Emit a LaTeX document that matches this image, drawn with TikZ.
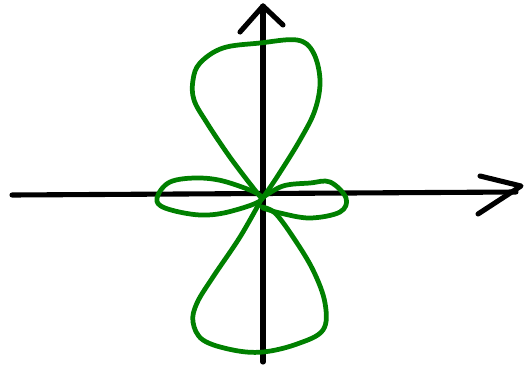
\documentclass[tikz,border=0pt]{standalone}
\usetikzlibrary{calc}
\definecolor{orbgreen}{RGB}{0,128,0}
\tikzset{
    axis_line/.style={
        draw=black,
        line width=2.9pt,
        line cap=round,
        line join=round
    },
    lobe_line/.style={
        draw=orbgreen,
        line width=2.7pt,
        line cap=round,
        line join=round
    }
}

\begin{document}
\begin{tikzpicture}[x=0.02cm, y=-0.02cm]

\useasboundingbox (0,0) rectangle (524,369);

% --- Axes ---
\coordinate (xLeft) at (12,195);
\coordinate (xRight) at (516,192);
\coordinate (yBottom) at (263,362);
\coordinate (yTop) at (263,6);

\draw[axis_line] (xLeft) -- (xRight);
\draw[axis_line] (yBottom) -- (yTop);

% --- Hand-drawn arrow heads ---
\draw[axis_line] (480,176) -- (521,186) -- (478,214);
\draw[axis_line] (240,32) -- (263,6) -- (283,25);

% --- Lobes ---
\coordinate (origin) at (262,198);

% top lobe
\draw[lobe_line] plot[smooth, tension=0.6] coordinates {
    (262,199) (244,176) (227,153) (207,123) (194,100) (193,80) (200,63)
    (223,48) (260,43) (297,40) (313,52) (320,80) (315,110) (300,140)
    (277,177) (262,199)};

% bottom lobe
\draw[lobe_line] plot[smooth, tension=0.6] coordinates {
    (261,200) (240,237) (213,277) (197,303) (193,322) (203,340) (233,350)
    (263,352) (297,344) (323,330) (325,303) (313,270) (293,237)
    (275,213) (262,207)};

% left lobe
\draw[lobe_line] plot[smooth cycle, tension=0.6] coordinates {
    (262,198) (230,183) (200,178) (170,182) (157,198) (165,208)
    (200,215) (232,211)};

% right lobe
\draw[lobe_line] plot[smooth, tension=0.6] coordinates {
    (262,198) (283,186) (310,183) (330,182) (346,198) (340,212)
    (310,218) (280,213) (263,208)};

\end{tikzpicture}
\end{document}
